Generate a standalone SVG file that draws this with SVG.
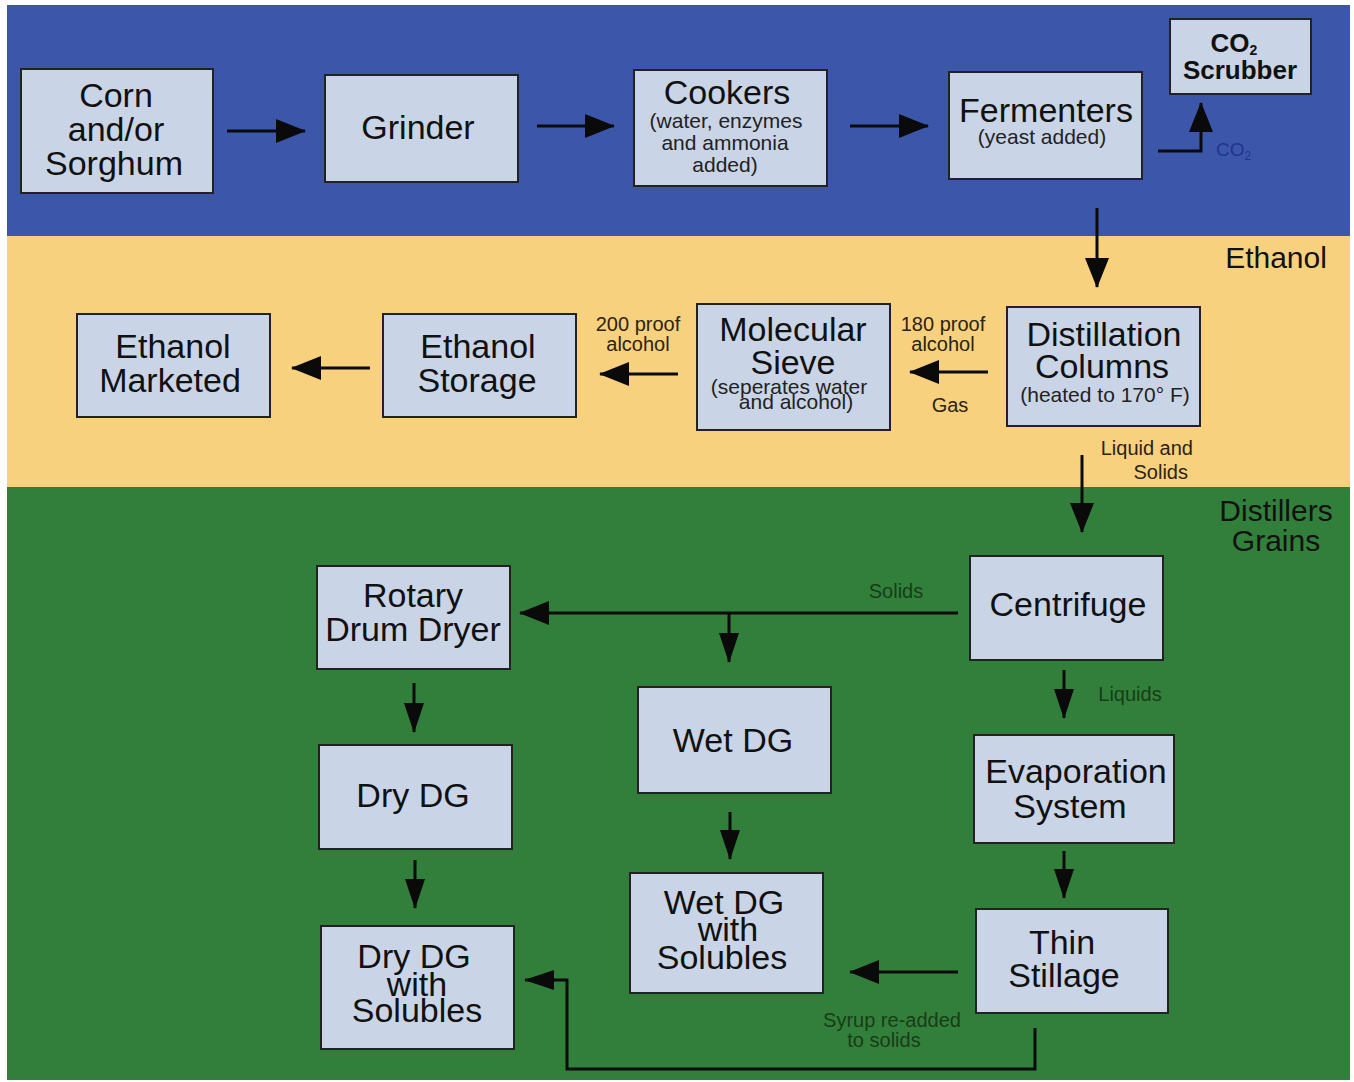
<svg xmlns="http://www.w3.org/2000/svg" width="1354" height="1082" viewBox="0 0 1354 1082">
<style>
.box{fill:#c9d5e6;stroke:#222;stroke-width:2}
.t{font-family:"Liberation Sans",Arial,sans-serif;font-size:34px;fill:#111;text-anchor:middle}
.s{font-family:"Liberation Sans",Arial,sans-serif;font-size:21px;fill:#222;text-anchor:middle}
.lb{font-family:"Liberation Sans",Arial,sans-serif;font-size:20px;fill:#2b2410;text-anchor:middle}
.lg{font-family:"Liberation Sans",Arial,sans-serif;font-size:20px;fill:#173d17;text-anchor:middle}
.sec{font-family:"Liberation Sans",Arial,sans-serif;font-size:30px;fill:#111;text-anchor:middle}
.c{fill:none;stroke:#0a0a0a;stroke-width:3}
</style>
<defs>
<marker id="ah" viewBox="0 0 30 24" refX="29" refY="12" markerWidth="30" markerHeight="24" markerUnits="userSpaceOnUse" orient="auto">
<path d="M0,0 L30,12 L0,24 z" fill="#0a0a0a"/>
</marker>
<marker id="as" viewBox="0 0 30 20" refX="29" refY="10" markerWidth="30" markerHeight="20" markerUnits="userSpaceOnUse" orient="auto">
<path d="M0,0 L30,10 L0,20 z" fill="#0a0a0a"/>
</marker>
</defs>
<rect x="0" y="0" width="1354" height="1082" fill="#ffffff"/>
<rect x="7" y="5" width="1343" height="231" fill="#3c57a9"/>
<rect x="7" y="236" width="1343" height="251" fill="#f8d17f"/>
<rect x="7" y="487" width="1343" height="593" fill="#327f3b"/>
<text class="sec" x="1276" y="268">Ethanol</text>
<text class="sec" x="1276" y="521">Distillers</text>
<text class="sec" x="1276" y="551">Grains</text>

<g id="connectors">
<line class="c" x1="227" y1="131" x2="305" y2="131" marker-end="url(#ah)"/>
<line class="c" x1="537" y1="126" x2="614" y2="126" marker-end="url(#ah)"/>
<line class="c" x1="850" y1="126" x2="928" y2="126" marker-end="url(#ah)"/>
<polyline class="c" points="1158,151 1201,151 1201,103" marker-end="url(#ah)"/>
<text x="1216" y="156" font-family="Liberation Sans,Arial,sans-serif" font-size="19" fill="#1f3590">CO<tspan font-size="12" dy="4">2</tspan></text>
<line class="c" x1="1097" y1="208" x2="1097" y2="287" marker-end="url(#ah)"/>
<line class="c" x1="988" y1="372" x2="910" y2="372" marker-end="url(#ah)"/>
<text class="lb" x="943" y="331">180 proof</text>
<text class="lb" x="943" y="351">alcohol</text>
<text class="lb" x="950" y="412">Gas</text>
<line class="c" x1="678" y1="374" x2="600" y2="374" marker-end="url(#ah)"/>
<text class="lb" x="638" y="331">200 proof</text>
<text class="lb" x="638" y="351">alcohol</text>
<line class="c" x1="370" y1="368" x2="292" y2="368" marker-end="url(#ah)"/>
<line class="c" x1="1082" y1="455" x2="1082" y2="532" marker-end="url(#ah)"/>
<text class="lb" x="1193" y="455" style="text-anchor:end">Liquid and</text>
<text class="lb" x="1188" y="479" style="text-anchor:end">Solids</text>
<line class="c" x1="958" y1="613" x2="520" y2="613" marker-end="url(#ah)"/>
<text class="lg" x="896" y="598">Solids</text>
<line class="c" x1="729" y1="613" x2="729" y2="662" marker-end="url(#as)"/>
<line class="c" x1="1064" y1="670" x2="1064" y2="718" marker-end="url(#as)"/>
<text class="lg" x="1130" y="701">Liquids</text>
<line class="c" x1="414" y1="683" x2="414" y2="732" marker-end="url(#as)"/>
<line class="c" x1="415" y1="860" x2="415" y2="908" marker-end="url(#as)"/>
<line class="c" x1="730" y1="812" x2="730" y2="859" marker-end="url(#as)"/>
<line class="c" x1="1064" y1="851" x2="1064" y2="898" marker-end="url(#as)"/>
<line class="c" x1="958" y1="972" x2="850" y2="972" marker-end="url(#ah)"/>
<polyline class="c" points="1035,1028 1035,1069 567,1069 567,980 525,980" marker-end="url(#as)"/>
<text class="lg" x="892" y="1027">Syrup re-added</text>
<text class="lg" x="884" y="1047">to solids</text>
</g>

<g id="corn"><rect class="box" x="21" y="69" width="192" height="124"/>
<text class="t" x="116" y="107">Corn</text><text class="t" x="116" y="141">and/or</text><text class="t" x="114" y="175">Sorghum</text></g>
<g id="grinder"><rect class="box" x="325" y="75" width="193" height="107"/>
<text class="t" x="418" y="139">Grinder</text></g>
<g id="cookers"><rect class="box" x="634" y="70" width="193" height="116"/>
<text class="t" x="727" y="104">Cookers</text>
<text class="s" x="726" y="128">(water, enzymes</text><text class="s" x="725" y="150">and ammonia</text><text class="s" x="725" y="172">added)</text></g>
<g id="fermenters"><rect class="box" x="949" y="72" width="193" height="107"/>
<text class="t" x="1046" y="122">Fermenters</text><text class="s" x="1042" y="144">(yeast added)</text></g>
<g id="scrubber"><rect class="box" x="1170" y="19" width="141" height="75"/>
<text x="1234" y="52" font-family="Liberation Sans,Arial,sans-serif" font-size="26" font-weight="bold" fill="#111" text-anchor="middle">CO<tspan font-size="14" dy="3">2</tspan></text>
<text x="1240" y="79" font-family="Liberation Sans,Arial,sans-serif" font-size="26" font-weight="bold" fill="#111" text-anchor="middle">Scrubber</text></g>
<g id="distillation"><rect class="box" x="1007" y="307" width="193" height="119"/>
<text class="t" x="1104" y="346">Distillation</text><text class="t" x="1102" y="378">Columns</text><text class="s" x="1105" y="402">(heated to 170° F)</text></g>
<g id="sieve"><rect class="box" x="697" y="304" width="193" height="126"/>
<text class="t" x="793" y="341">Molecular</text><text class="t" x="793" y="374">Sieve</text>
<text class="s" x="789" y="394">(seperates water</text><text class="s" x="796" y="409">and alcohol)</text></g>
<g id="storage"><rect class="box" x="383" y="314" width="193" height="103"/>
<text class="t" x="478" y="358">Ethanol</text><text class="t" x="477" y="392">Storage</text></g>
<g id="marketed"><rect class="box" x="77" y="314" width="193" height="103"/>
<text class="t" x="173" y="358">Ethanol</text><text class="t" x="170" y="392">Marketed</text></g>
<g id="centrifuge"><rect class="box" x="970" y="556" width="193" height="104"/>
<text class="t" x="1068" y="616">Centrifuge</text></g>
<g id="rotary"><rect class="box" x="317" y="566" width="193" height="103"/>
<text class="t" x="413" y="607">Rotary</text><text class="t" x="413" y="641">Drum Dryer</text></g>
<g id="wetdg"><rect class="box" x="638" y="687" width="193" height="106"/>
<text class="t" x="733" y="752">Wet DG</text></g>
<g id="evaporation"><rect class="box" x="974" y="735" width="200" height="108"/>
<text class="t" x="1076" y="783">Evaporation</text><text class="t" x="1070" y="818">System</text></g>
<g id="drydg"><rect class="box" x="319" y="745" width="193" height="104"/>
<text class="t" x="413" y="807">Dry DG</text></g>
<g id="wetdgs"><rect class="box" x="630" y="873" width="193" height="120"/>
<text class="t" x="724" y="914">Wet DG</text><text class="t" x="728" y="941">with</text><text class="t" x="722" y="969">Solubles</text></g>
<g id="thin"><rect class="box" x="976" y="909" width="192" height="104"/>
<text class="t" x="1062" y="954">Thin</text><text class="t" x="1064" y="987">Stillage</text></g>
<g id="drydgs"><rect class="box" x="321" y="926" width="193" height="123"/>
<text class="t" x="414" y="968">Dry DG</text><text class="t" x="417" y="996">with</text><text class="t" x="417" y="1022">Solubles</text></g>
</svg>
